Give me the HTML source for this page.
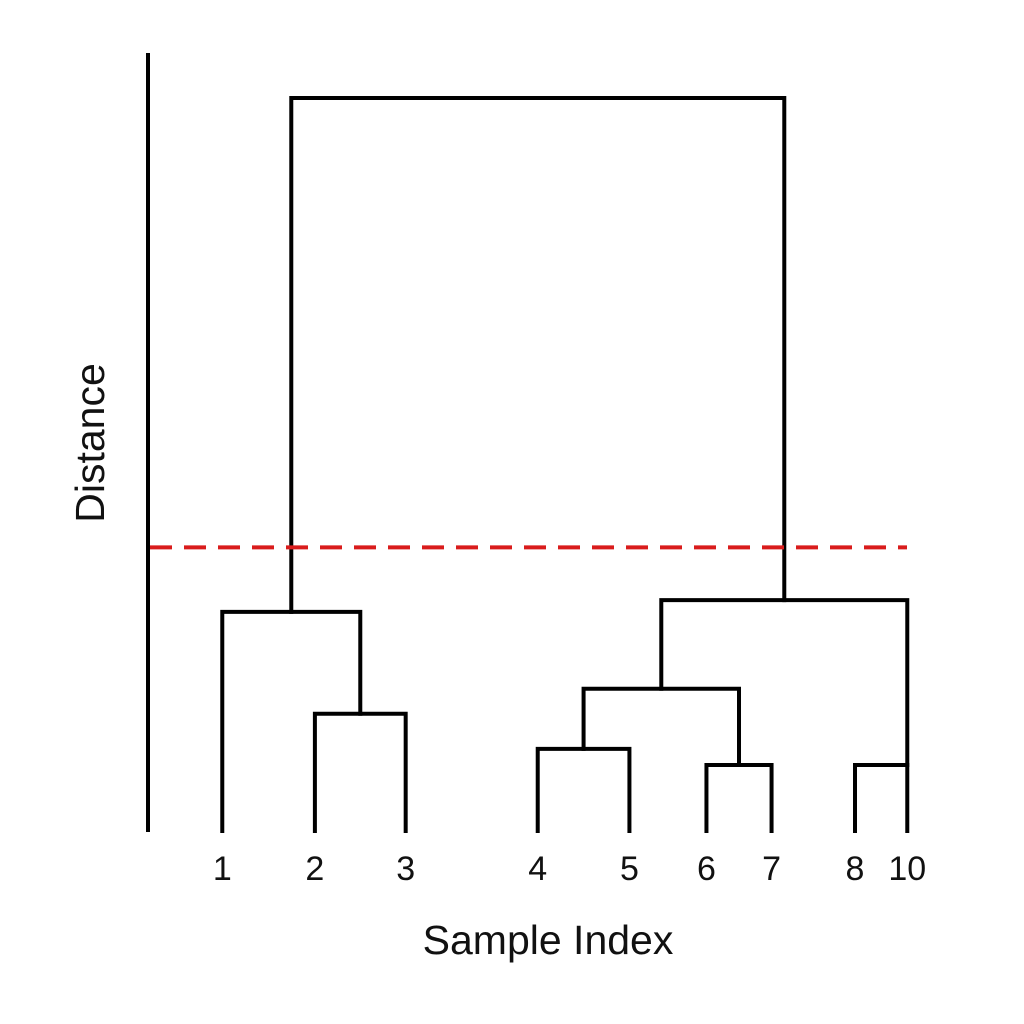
<!DOCTYPE html>
<html><head><meta charset="utf-8">
<style>
html,body{margin:0;padding:0;background:#fff;}
svg{display:block;}
text{font-family:"Liberation Sans","DejaVu Sans",sans-serif;fill:#111;}
</style></head>
<body>
<svg id="chart" width="1024" height="1024" viewBox="0 0 1024 1024">
  <rect width="1024" height="1024" fill="#fff"/>
  <line x1="148" y1="53" x2="148" y2="832" stroke="#000" stroke-width="4"/>
  <g id="links"></g>
  <g id="labels"></g>
  <text x="548" y="954" font-size="41" text-anchor="middle">Sample Index</text>
  <text x="0" y="0" font-size="41" text-anchor="middle" transform="translate(104,443) rotate(-90)">Distance</text>
</svg>
<script>
// leaf labels and their positions along the sample axis (index units)
const leafLabels = ["1","2","3","4","5","6","7","8","10"];
const leafPos = [0.81, 1.82, 2.81, 4.25, 5.25, 6.09, 6.80, 7.71, 8.28];
// merges: [left node, right node]; leaves 0..8, clusters 9+
const mergeLeft  = [1, 3, 5, 7, 0, 10, 14, 13];
const mergeRight = [2, 4, 6, 8, 9, 11, 12, 15];
const mergeHeights = [1.6, 1.12, 0.9, 0.9, 2.99, 1.94, 3.15, 10];
// anchor of the merged node: "mid" or "right"
const mergeAnchor = ["mid","mid","mid","right","mid","mid","mid","mid"];
const threshold = 3.87;
</script>
<script>
const xs = v => 148 + v * 91.7;        // index -> px
const ys = h => 831 - h * 73.3;        // distance -> px
const NS = "http://www.w3.org/2000/svg";
const linkG = document.getElementById("links");
const labG = document.getElementById("labels");
const nodeX = leafPos.map(xs), nodeY = leafPos.map(() => 831);
for (let i = 0; i < mergeLeft.length; i++) {
  const a = mergeLeft[i], b = mergeRight[i];
  const y = ys(mergeHeights[i]);
  const p = document.createElementNS(NS, "path");
  p.setAttribute("d", `M${nodeX[a]},${nodeY[a]} V${y} H${nodeX[b]} V${nodeY[b]}`);
  p.setAttribute("fill", "none");
  p.setAttribute("stroke", "#000");
  p.setAttribute("stroke-width", "4");
  p.setAttribute("stroke-linecap", "square");
  
  
  linkG.appendChild(p);
  nodeX.push(mergeAnchor[i] === "right" ? nodeX[b] : (nodeX[a] + nodeX[b]) / 2);
  nodeY.push(y);
}
leafLabels.forEach((l, i) => {
  const t = document.createElementNS(NS, "text");
  t.setAttribute("x", xs(leafPos[i]));
  t.setAttribute("y", 880);
  t.setAttribute("font-size", "34");
  t.setAttribute("text-anchor", "middle");
  t.textContent = l;
  
  
  labG.appendChild(t);
});
const th = document.createElementNS(NS, "line");
th.setAttribute("x1", 150); th.setAttribute("x2", 907);
th.setAttribute("y1", ys(threshold)); th.setAttribute("y2", ys(threshold));
th.setAttribute("stroke", "#d91c1c");
th.setAttribute("stroke-width", "4");
th.setAttribute("stroke-dasharray", "22 12");


document.getElementById("chart").appendChild(th);
</script>
</body></html>
